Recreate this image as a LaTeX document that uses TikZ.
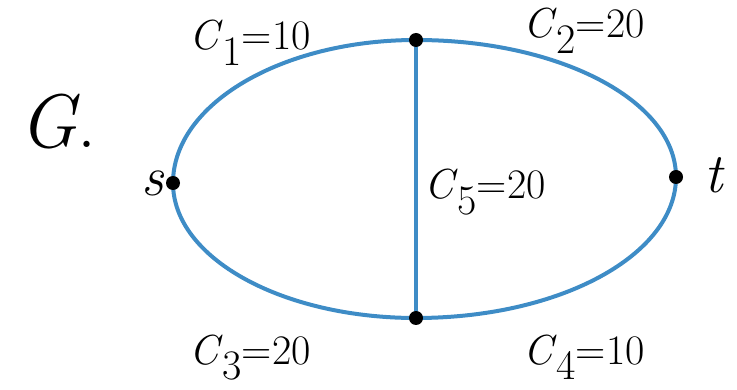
\documentclass[tikz,border=0pt]{standalone}
\definecolor{edgeblue}{RGB}{62,140,198}
\newcommand{\caplbl}[2]{\textit{C}\raisebox{-0.38em}{#1}=#2}
\begin{document}
\begin{tikzpicture}[x=1pt,y=-1pt,
  vdot/.style={circle,fill=black,inner sep=0pt,minimum size=14pt},
  edge/.style={draw=edgeblue,line width=4pt},
  lbl/.style={font=\fontsize{42pt}{42pt}\selectfont,inner sep=0pt,anchor=base},
  vlbl/.style={font=\fontsize{56pt}{56pt}\selectfont\itshape,inner sep=0pt,anchor=base}]
\useasboundingbox (0,0) rectangle (737,390);
\coordinate (s) at (173,183);
\coordinate (top) at (416,40);
\coordinate (t) at (676,177);
\coordinate (bot) at (416,318);
\path[edge] (s) .. controls (173,104) and (282,40) .. (top)
  .. controls (560,40) and (676,101) .. (t)
  .. controls (676,255) and (560,318) .. (bot)
  .. controls (282,318) and (173,258) .. (s);
\path[edge] (top) -- (bot);
\node[vdot] (ns) at (s) {};
\node[vdot] (ntop) at (top) {};
\node[vdot] (nt) at (t) {};
\node[vdot] (nbot) at (bot) {};
\node[vlbl] (ls) at (153,196) {s};
\node[vlbl] (lt) at (714,193) {t};
\node[font=\fontsize{76pt}{76pt}\selectfont,inner sep=0pt,anchor=base] (G) at (58,148) {\textit{G}.};
\node[lbl] (c1) at (250,50) {\caplbl{1}{10}};
\node[lbl] (c2) at (584,38) {\caplbl{2}{20}};
\node[lbl] (c5) at (485,199) {\caplbl{5}{20}};
\node[lbl] (c3) at (250,364) {\caplbl{3}{20}};
\node[lbl] (c4) at (584,364) {\caplbl{4}{10}};
\end{tikzpicture}
\end{document}
